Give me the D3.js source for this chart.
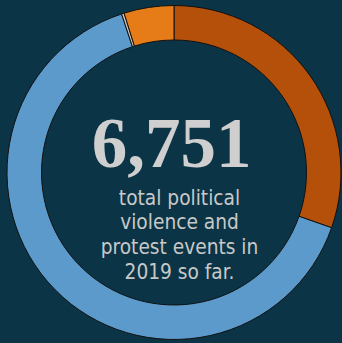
<!DOCTYPE html>
<html>
<head>
<meta charset="utf-8">
<script src="https://cdn.jsdelivr.net/npm/d3@7"></script>
<style>
  html, body { margin: 0; padding: 0; background: #0b3546; }
  svg { display: block; }
</style>
</head>
<body>
<svg id="chart" width="342" height="343"></svg>
<script>
// Event counts by category, in drawing order (clockwise from 12 o'clock)
const categories = ["Riots", "Protests", "Strategic developments", "Violence against civilians"];
const counts = [2050, 4358, 17, 326];
const colors = ["#b5500a", "#5b9acb", "#c4c4c4", "#e67c18"];

const totalLabel = "6,751";
const captionLines = ["total political", "violence and", "protest events in", "2019 so far."];

const width = 342, height = 343;
const cx = 174, cy = 172.5;
const outerR = 167, innerR = 132.5;

const svg = d3.select("#chart");
svg.append("rect").attr("width", width).attr("height", height).attr("fill", "#0b3546");

const g = svg.append("g").attr("transform", `translate(${cx},${cy})`);

const pie = d3.pie().sort(null).value(d => d.value);
const arc = d3.arc().innerRadius(innerR).outerRadius(outerR);

const data = categories.map((c, i) => ({ name: c, value: counts[i], color: colors[i] }));

g.selectAll("path.slice")
  .data(pie(data))
  .join("path")
  .attr("class", "slice")
  .attr("d", arc)
  .attr("fill", d => d.data.color)
  .attr("stroke", "#111")
  .attr("stroke-width", 1);

// Total in the middle
g.append("text")
  .attr("x", -2.5)
  .attr("y", -6)
  .attr("text-anchor", "middle")
  .attr("font-family", "'Liberation Serif', 'DejaVu Serif', serif")
  .attr("font-weight", "bold")
  .attr("font-size", 71)
  .attr("fill", "#cfcfcf")
  .text(totalLabel);

const cap = g.append("text")
  .attr("text-anchor", "middle")
  .attr("font-family", "'DejaVu Sans Condensed', 'DejaVu Sans', sans-serif")
  .attr("font-stretch", "condensed")
  .attr("font-size", 20.7)
  .attr("fill", "#c8c8c8");

captionLines.forEach((line, i) => {
  cap.append("tspan")
    .attr("x", 5.5)
    .attr("y", 32 + i * 24.7)
    .text(line);
});
</script>
</body>
</html>
